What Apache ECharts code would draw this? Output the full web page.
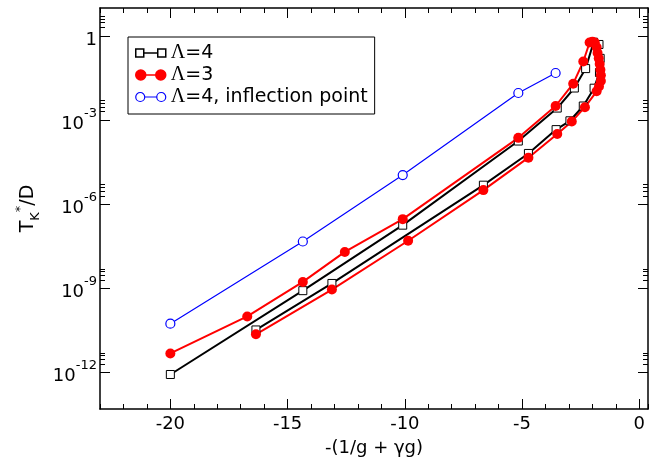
<!DOCTYPE html>
<html><head><meta charset="utf-8">
<script src="https://cdn.jsdelivr.net/npm/echarts@6.0.0/dist/echarts.min.js"></script>
<style>html,body{margin:0;padding:0;background:#fff}#c{width:659px;height:462px}</style>
</head><body><div id="c"></div>
<script>
// ---- data (x = -(1/g + γg), y = T_K*/D) ----
const seriesNames = ['Λ=4', 'Λ=3', 'Λ=4, inflection point'];
const lambda4 = [
  [-20, 8.5e-13], [-14.35, 8.3e-10], [-10.09, 1.8e-7], [-5.16, 1.8e-4], [-3.5, 2.7e-3],
  [-2.77, 1.4e-2], [-2.29, 6.9e-2], [-1.95, 0.6], [-1.72, 0.5], [-1.67, 0.16],
  [-1.7, 0.05], [-1.93, 1.38e-2], [-2.39, 3.2e-3], [-2.96, 9.5e-4], [-3.55, 4.6e-4],
  [-4.73, 6.5e-5], [-6.65, 4.8e-6], [-13.11, 1.5e-9], [-16.35, 3.3e-11]
];
const lambda3 = [
  [-20, 4.8e-12], [-16.72, 1.0e-10], [-14.35, 1.7e-9], [-12.56, 2.0e-8], [-10.09, 2.95e-7],
  [-5.16, 2.34e-4], [-3.57, 3.2e-3], [-2.82, 2.0e-2], [-2.39, 0.123], [-2.12, 0.59],
  [-2.0, 0.62], [-1.9, 0.59], [-1.82, 0.4], [-1.78, 0.25], [-1.73, 0.16], [-1.69, 0.1],
  [-1.66, 0.063], [-1.64, 0.04], [-1.64, 0.025], [-1.72, 0.016], [-1.82, 0.0107],
  [-2.32, 2.9e-3], [-2.88, 8.9e-4], [-3.5, 3.2e-4], [-4.73, 4.6e-5], [-6.65, 3.2e-6],
  [-9.86, 5.0e-8], [-13.11, 9.1e-10], [-16.35, 2.3e-11]
];
const lambda4Inflection = [
  [-20, 5.5e-11], [-14.35, 4.7e-8], [-10.09, 1.1e-5], [-5.16, 9.3e-3], [-3.57, 4.8e-2]
];
const xMajorTicks = [-20, -15, -10, -5, 0];
const yMajorTicks = [1e-12, 1e-9, 1e-6, 1e-3, 1];
const yMinorTicks = [2e-12, 3e-12, 4e-12, 5e-12, 2e-9, 3e-9, 4e-9, 5e-9, 2e-6, 3e-6, 4e-6, 5e-6,
  2e-3, 3e-3, 4e-3, 5e-3, 2, 3, 4, 5];

const FONT = 'DejaVu Sans, Liberation Sans, sans-serif';
const X_MIN = -23, X_MAX = 0.37, Y_MIN = 5e-14, Y_MAX = 10;

function xAx(pos, major) {
  const a = {
    type: 'value', position: pos, min: X_MIN, max: X_MAX,
    splitLine: { show: false },
    axisLine: { show: major, onZero: false, lineStyle: { color: '#000', width: 1.5 } },
    axisTick: { show: true, inside: true, length: major ? 10 : 5, lineStyle: { color: '#000', width: 1 } },
    axisLabel: { show: false }
  };
  if (major) { a.axisTick.customValues = xMajorTicks; } else { a.interval = 1; }
  return a;
}
function yAx(pos, major) {
  return {
    type: 'log', position: pos, min: Y_MIN, max: Y_MAX,
    splitLine: { show: false },
    axisLine: { show: major, onZero: false, lineStyle: { color: '#000', width: 1.5 } },
    axisTick: { show: true, inside: true, length: major ? 10 : 5,
      customValues: major ? yMajorTicks : yMinorTicks, lineStyle: { color: '#000', width: 1 } },
    axisLabel: { show: false }
  };
}

const xBottom = xAx('bottom', true);
xBottom.axisLabel = { show: true, customValues: xMajorTicks, margin: 6, fontSize: 18, color: '#000', fontFamily: FONT };
xBottom.name = '-(1/g + γg)';
xBottom.nameLocation = 'middle';
xBottom.nameGap = 30;
xBottom.nameTextStyle = { fontSize: 18, color: '#000', fontFamily: FONT };

const yLeft = yAx('left', true);
yLeft.axisLabel = {
  show: true, customValues: yMajorTicks, margin: 3, color: '#000', fontFamily: FONT,
  formatter: function (v) {
    const e = Math.round(Math.log10(v));
    return e === 0 ? '{n|1}' : '{n|10}{s|' + e + '}';
  },
  rich: {
    n: { fontSize: 18, fontFamily: FONT, color: '#000', lineHeight: 26, verticalAlign: 'bottom' },
    s: { fontSize: 13, fontFamily: FONT, color: '#000', lineHeight: 13, verticalAlign: 'top' }
  }
};
yLeft.name = '{t|T}{k|K}{a|*}{t|/D}';
yLeft.nameLocation = 'middle';
yLeft.nameGap = 58;
yLeft.nameTextStyle = {
  rich: {
    t: { fontSize: 19, fontFamily: FONT, color: '#000', lineHeight: 28, verticalAlign: 'middle' },
    k: { fontSize: 13, fontFamily: FONT, color: '#000', lineHeight: 13, verticalAlign: 'bottom' },
    a: { fontSize: 13, fontFamily: FONT, color: '#000', lineHeight: 13, verticalAlign: 'top' }
  }
};

const legendRich = {
  g: { fontSize: 20, fontFamily: 'Liberation Serif, serif', color: '#000' },
  t: { fontSize: 19, fontFamily: FONT, color: '#000' }
};

const option = {
  animation: false,
  backgroundColor: '#fff',
  grid: { left: 100, right: 11, top: 8, bottom: 50 },
  xAxis: [xBottom, xAx('bottom', false), xAx('top', true), xAx('top', false)],
  yAxis: [yLeft, yAx('left', false), yAx('right', true), yAx('right', false)],
  legend: {
    orient: 'vertical', left: 128, top: 37,
    padding: [5, 7, 6, 7], itemGap: 0, itemWidth: 30, itemHeight: 10,
    borderColor: '#000', borderWidth: 1, borderRadius: 0,
    textStyle: { fontSize: 19, fontFamily: FONT, color: '#000', lineHeight: 22, rich: legendRich },
    formatter: function (name) { return '{g|Λ}{t|' + name.slice(1) + '}'; },
    data: [
      { name: seriesNames[0], icon: 'path://M0,1H8V9H0Z M8,5H22 M22,1H30V9H22Z',
        itemStyle: { color: '#fff', borderColor: '#000', borderWidth: 1.5 } },
      { name: seriesNames[1], icon: 'path://M0,5A5,5 0 1,0 10,5A5,5 0 1,0 0,5Z M10,5H20 M20,5A5,5 0 1,0 30,5A5,5 0 1,0 20,5Z',
        itemStyle: { color: '#ff0000', borderColor: '#ff0000', borderWidth: 1.5 } },
      { name: seriesNames[2], icon: 'path://M0,5A4.5,4.5 0 1,0 9,5A4.5,4.5 0 1,0 0,5Z M9,5H21 M21,5A4.5,4.5 0 1,0 30,5A4.5,4.5 0 1,0 21,5Z',
        itemStyle: { color: '#fff', borderColor: '#0000ff', borderWidth: 1.2 } }
    ]
  },
  series: [
    { name: seriesNames[0], type: 'line', data: lambda4, symbol: 'rect', symbolSize: 8,
      itemStyle: { color: '#fff', borderColor: '#000', borderWidth: 1 },
      lineStyle: { color: '#000', width: 2 }, emphasis: { disabled: true } },
    { name: seriesNames[1], type: 'line', data: lambda3, symbol: 'circle', symbolSize: 10,
      itemStyle: { color: '#ff0000', borderWidth: 0 },
      lineStyle: { color: '#ff0000', width: 2 }, emphasis: { disabled: true } },
    { name: seriesNames[2], type: 'line', data: lambda4Inflection, symbol: 'circle', symbolSize: 9,
      itemStyle: { color: '#fff', borderColor: '#0000ff', borderWidth: 1.2 },
      lineStyle: { color: '#0000ff', width: 1.2 }, emphasis: { disabled: true } }
  ]
};
const chart = echarts.init(document.getElementById('c'), null, { renderer: 'canvas' });
chart.setOption(option);
</script></body></html>
